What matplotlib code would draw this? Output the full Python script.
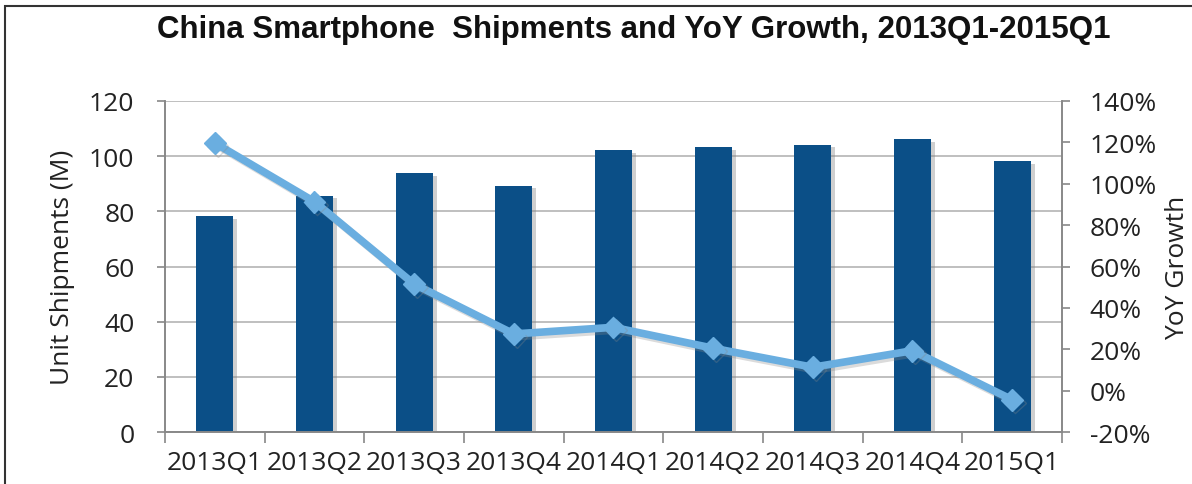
import numpy as np
import matplotlib
matplotlib.use("Agg")
import matplotlib.pyplot as plt
import matplotlib.patheffects as pe
from matplotlib.ticker import FuncFormatter

quarters = ["2013Q1", "2013Q2", "2013Q3", "2013Q4", "2014Q1",
            "2014Q2", "2014Q3", "2014Q4", "2015Q1"]
shipments = [78.2, 85.7, 93.8, 89.3, 102.2, 103.2, 104.2, 106.2, 98.1]
yoy_growth = [119.7, 91.3, 51.5, 27.4, 30.6, 20.5, 11.3, 19.3, -4.4]

bar_color = "#0b4f87"
line_color = "#6aaee0"
grid_color = "#b4b4b4"
tick_font = "Open Sans"
fs = 19

fig = plt.figure(figsize=(11.92, 4.85), dpi=100)
ax = fig.add_axes([0.1384, 0.1072, 0.7525, 0.6825])
ax2 = ax.twinx()

x = np.arange(len(quarters))
ax.bar(x, shipments, width=0.37, color=bar_color, zorder=2,
       path_effects=[pe.SimplePatchShadow(offset=(3, -2), shadow_rgbFace="#888888", alpha=0.4), pe.Normal()])
ax.set_xlim(-0.5, len(quarters) - 0.5)
ax.set_ylim(0, 120)
ax.set_yticks(range(0, 121, 20))
ax.yaxis.grid(True, color=grid_color, lw=1.2, zorder=0)
ax.set_axisbelow(True)

ax.set_xticks(x)
ax.set_xticklabels(quarters, fontsize=fs, fontfamily=tick_font, color="#222222")
ax.set_xticks(np.arange(-0.5, len(quarters), 1), minor=True)
ax.tick_params(axis="x", which="major", length=0, pad=13)
ax.tick_params(axis="x", which="minor", length=8, color="#888888", width=1.2)
ax.tick_params(axis="y", length=6, color="#888888", width=1.2, labelsize=fs, labelcolor="#222222", pad=16)
for lab in ax.get_yticklabels():
    lab.set_fontfamily(tick_font)
ax.set_ylabel("Unit Shipments (M)", fontsize=fs, fontfamily=tick_font, color="#222222", labelpad=10)

ax2.plot(x, yoy_growth, color=line_color, lw=5.5, marker="D", markersize=11, zorder=3,
         path_effects=[pe.SimpleLineShadow(offset=(2, -2), shadow_color="#888888", alpha=0.3), pe.Normal()])
ax2.set_ylim(-20, 140)
ax2.set_yticks(range(-20, 141, 20))
ax2.yaxis.set_major_formatter(FuncFormatter(lambda v, p: f"{int(v)}%"))
ax2.tick_params(axis="y", length=6, color="#888888", width=1.2, labelsize=fs, labelcolor="#222222", pad=14)
for lab in ax2.get_yticklabels():
    lab.set_fontfamily(tick_font)
ax2.set_ylabel("YoY Growth", fontsize=fs, fontfamily=tick_font, color="#222222", labelpad=6)

for a in (ax, ax2):
    a.spines["top"].set_visible(False)
    for side in ("left", "right", "bottom"):
        a.spines[side].set_color("#888888")
        a.spines[side].set_linewidth(1.2)

fig.text(0.532, 0.938, "China Smartphone  Shipments and YoY Growth, 2013Q1-2015Q1",
         ha="center", va="center", fontsize=22.5, fontweight="bold",
         fontfamily="Liberation Sans", color="#111111")

fig.patches.append(plt.Rectangle((0.004, -0.1), 1.2, 1.086, transform=fig.transFigure,
                                 fill=False, edgecolor="#333333", lw=1.5))

fig.savefig("out.png", dpi=100)
